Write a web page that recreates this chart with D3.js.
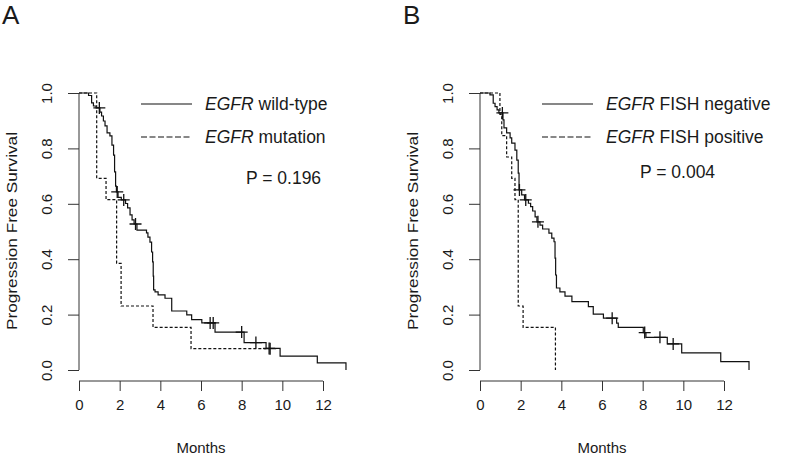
<!DOCTYPE html>
<html><head><meta charset="utf-8">
<script src="https://cdn.jsdelivr.net/npm/d3@7"></script>
<style>body{margin:0;background:#fff}svg{display:block}text{font-family:"Liberation Sans",Arial,sans-serif;fill:#1a1a1a}</style>
</head><body><svg id="c" width="800" height="457"></svg>
<script>
// ---- data ----
const xTicks = [0, 2, 4, 6, 8, 10, 12];
const yTicks = [0, 0.2, 0.4, 0.6, 0.8, 1.0];

// Panel A: EGFR wild-type (solid)
const wtTime = [0,0.47,0.62,0.71,0.84,1.03,1.11,1.20,1.28,1.38,1.52,1.62,1.70,1.75,1.80,1.84,1.92,2.08,2.29,2.39,2.51,2.61,2.71,2.85,3.32,3.39,3.49,3.57,3.62,3.65,3.67,3.74,3.89,4.23,4.56,5.30,5.54,6.04,6.69,8.12,9.20,9.89,11.72,13.13];
const wtSurv = [1,0.991,0.964,0.953,0.946,0.931,0.917,0.899,0.881,0.856,0.845,0.812,0.776,0.715,0.664,0.643,0.623,0.614,0.601,0.585,0.560,0.542,0.527,0.505,0.495,0.480,0.462,0.426,0.390,0.339,0.289,0.282,0.271,0.259,0.213,0.199,0.182,0.170,0.137,0.099,0.078,0.050,0.026,0];
const wtCensor = [1.0,1.88,2.2,2.78,6.45,6.6,8.0,8.7,9.35];
// Panel A: EGFR mutation (dashed)
const mutTime = [0,0.87,1.33,1.85,2.07,3.64,5.51,9.4];
const mutSurv = [1,0.692,0.615,0.385,0.231,0.154,0.077,0.077];
const mutCensor = [9.4];

// Panel B: EGFR FISH negative (solid)
const negTime = [0,0.49,0.65,0.74,0.84,0.93,1.13,1.18,1.31,1.48,1.56,1.72,1.81,1.88,1.92,2.05,2.19,2.38,2.49,2.59,2.71,2.80,2.95,3.08,3.39,3.53,3.64,3.69,3.72,3.76,3.93,4.18,4.52,5.33,5.57,6.07,6.72,6.80,8.03,8.16,9.21,9.92,11.84,13.23];
const negSurv = [1,0.993,0.963,0.951,0.939,0.928,0.903,0.874,0.856,0.838,0.819,0.794,0.758,0.711,0.650,0.632,0.614,0.602,0.590,0.574,0.553,0.535,0.523,0.509,0.494,0.476,0.463,0.404,0.343,0.296,0.282,0.267,0.247,0.229,0.202,0.187,0.169,0.154,0.135,0.118,0.094,0.062,0.030,0];
const negCensor = [1.1,1.94,2.25,2.85,6.5,8.1,8.85,9.5];
// Panel B: EGFR FISH positive (dashed)
const posTime = [0,0.98,1.07,1.31,1.56,1.72,1.88,2.12,3.71];
const posSurv = [1,0.923,0.846,0.769,0.692,0.615,0.231,0.154,0];
const posCensor = [];

const panels = [
  {letter:"A", x0:79, series:[
     {t:wtTime, s:wtSurv, c:wtCensor, dash:null, label:"wild-type"},
     {t:mutTime, s:mutSurv, c:mutCensor, dash:"3,2", label:"mutation"}], p:"P = 0.196", pY:184},
  {letter:"B", x0:480, series:[
     {t:negTime, s:negSurv, c:negCensor, dash:null, label:"FISH negative"},
     {t:posTime, s:posSurv, c:posCensor, dash:"3,2", label:"FISH positive"}], p:"P = 0.004", pY:178}
];

const svg = d3.select("#c");

panels.forEach(P => {
  const x = d3.scaleLinear().domain([0,12]).range([P.x0, P.x0 + 244]);
  const y = d3.scaleLinear().domain([0,1]).range([370, 93]);
  const g = svg.append("g");

  g.append("text").attr("x", P.x0 - 77).attr("y", 24).attr("font-size", 26).text(P.letter);

  const xa = g.append("g").attr("transform", "translate(0,381)")
    .call(d3.axisBottom(x).tickValues(xTicks).tickSize(10).tickPadding(8).tickFormat(d3.format("d")));
  xa.select(".domain").attr("stroke", "#333").attr("d", `M${x(0)},0H${x(12)}`);
  xa.selectAll(".tick line").attr("stroke", "#333");
  xa.selectAll(".tick text").attr("font-size", 15).attr("font-family", "Liberation Sans, Arial").attr("fill", "#1a1a1a");

  const ya = g.append("g").attr("transform", `translate(${x(0)},0)`)
    .call(d3.axisLeft(y).tickValues(yTicks).tickSize(11).tickFormat(d3.format(".1f")));
  ya.select(".domain").attr("stroke", "#333").attr("d", `M0,${y(0)}V${y(1)}`);
  ya.selectAll(".tick line").attr("stroke", "#333");
  ya.selectAll(".tick text").attr("font-size", 15).attr("font-family", "Liberation Sans, Arial").attr("fill", "#1a1a1a")
    .attr("text-anchor", "middle").attr("x", null).attr("dy", null)
    .attr("transform", "translate(-27,0) rotate(-90)");

  g.append("text").attr("text-anchor", "middle").attr("font-size", 15)
    .attr("x", x(6)).attr("y", 453).text("Months");
  g.append("text").attr("text-anchor", "middle").attr("font-size", 14.5)
    .attr("textLength", 198).attr("lengthAdjust", "spacingAndGlyphs")
    .attr("transform", `translate(${P.x0 - 62},231) rotate(-90)`).text("Progression Free Survival");

  const line = d3.line().x(d => x(d[0])).y(d => y(d[1])).curve(d3.curveStepAfter);
  P.series.forEach(S => {
    const pts = S.t.map((t, i) => [t, S.s[i]]);
    g.append("path").attr("d", line(pts)).attr("fill", "none").attr("stroke", "#111")
      .attr("stroke-width", 1.2).attr("stroke-dasharray", S.dash);
    const f = t => { let v = 1; S.t.forEach((tt, i) => { if (tt <= t) v = S.s[i]; }); return v; };
    S.c.forEach(ct => {
      const cx = x(ct), cy = y(f(ct));
      g.append("path").attr("d", `M${cx-6},${cy}H${cx+6}M${cx},${cy-6}V${cy+6}`)
        .attr("stroke", "#111").attr("stroke-width", 1.3);
    });
  });

  P.series.forEach((S, i) => {
    const ly = 104 + i * 33;
    g.append("line").attr("x1", P.x0 + 62).attr("x2", P.x0 + 113).attr("y1", ly).attr("y2", ly)
      .attr("stroke", "#111").attr("stroke-width", 1.2).attr("stroke-dasharray", S.dash ? "6,2.5" : null);
    const t = g.append("text").attr("x", P.x0 + 126).attr("y", ly + 6).attr("font-size", 17.5);
    t.append("tspan").attr("font-style", "italic").text("EGFR");
    t.append("tspan").text(" " + S.label);
  });
  g.append("text").attr("x", P.x0 + (P.letter === "A" ? 167 : 160)).attr("y", P.pY).attr("font-size", 17.5).text(P.p);
});
</script></body></html>
